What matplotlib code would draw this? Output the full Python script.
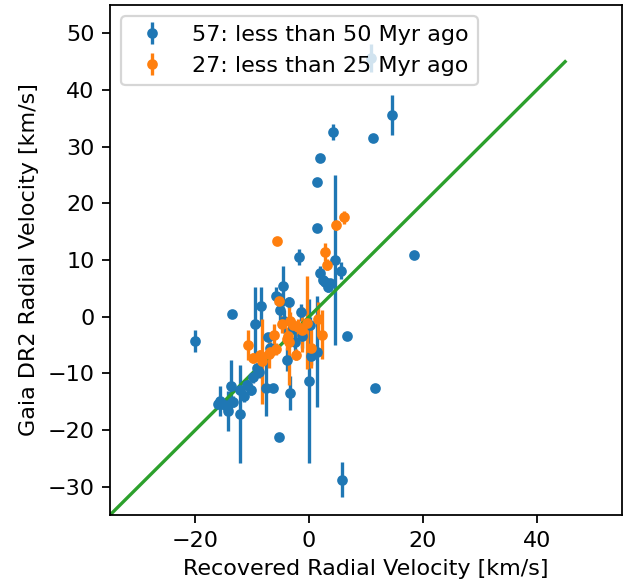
import matplotlib
matplotlib.use("Agg")
import matplotlib.pyplot as plt
import numpy as np

# blue sample: stars younger than 50 Myr (recovered RV, Gaia RV, Gaia RV error)
old_rv = [10.8, 14.5, 11.2, 4.2, 1.9, 1.4, 1.4, -1.7, 4.6, 18.4,
          5.6, 1.9, 2.4, 3.7, 3.4, -4.6, -5.9, -8.4, -13.5, -1.5,
          -20.0, 6.6, -9.5, -7.3, -5.1, -3.9, 1.3, 0.4, -0.1, -3.4,
          -7.6, -6.4, -5.3, 11.5, 5.8, -16.1, -15.7, -13.8, -14.2, -12.2,
          -12.2, -11.5, -13.3, -10.3, -9.8, -9.2, -2.8, -1.2, -6.8, 0.2,
          -3.5, -11.0, -14.8, 2.8, -2.5, -8.8, -4.4]
old_gaia = [45.6, 35.6, 31.6, 32.6, 28.0, 23.7, 15.6, 10.5, 10.0, 10.8,
            8.1, 7.7, 6.5, 5.9, 5.2, 5.4, 3.7, 1.8, 0.5, 0.8,
            -4.3, -3.4, -1.3, -3.6, 1.2, -7.6, -6.2, -7.0, -11.4, -13.4,
            -12.5, -12.6, -21.3, -12.6, -28.8, -15.4, -14.9, -12.2, -16.6, -17.2,
            -13.0, -14.0, -15.0, -12.9, -10.7, -9.1, -2.0, -3.5, -5.5, -1.5,
            2.5, -12.0, -15.6, 6.1, -4.5, -9.8, -0.8]
old_err = [2.5, 3.5, 0.4, 1.4, 0.4, 0.4, 0.4, 1.4, 15.0, 0.4,
           1.5, 1.2, 0.5, 0.5, 0.8, 3.6, 1.5, 3.5, 0.6, 1.5,
           1.9, 0.4, 6.5, 0.5, 3.0, 2.0, 9.8, 1.5, 14.5, 3.0,
           5.0, 0.5, 0.5, 0.4, 3.1, 0.5, 2.7, 4.5, 3.5, 8.6,
           1.0, 1.0, 1.0, 1.0, 1.0, 1.0, 1.0, 2.0, 1.0, 1.5,
           1.0, 1.0, 1.0, 0.5, 2.0, 1.0, 2.0]

# orange sample: stars younger than 25 Myr
young_rv = [-5.6, 4.7, 6.2, 2.8, 3.1, -0.4, -10.7, -9.9, -8.2, -6.8,
            -6.2, -5.8, -5.3, -4.7, -3.8, -3.4, -2.9, -2.3, -1.9, 0.4,
            2.2, 1.5, -3.6, -3.7, -8.6, -1.3, -7.0]
young_gaia = [13.3, 16.1, 17.5, 11.4, 9.2, -1.1, -5.0, -7.3, -7.9, -6.3,
              -3.3, -5.7, 2.8, -1.3, -3.9, -0.7, -1.5, -6.7, -1.9, -5.6,
              -3.2, -0.5, -4.5, -3.5, -6.8, -2.3, -6.6]
young_err = [0.3, 0.8, 1.2, 1.6, 1.0, 8.2, 2.6, 0.8, 7.5, 1.0,
             2.0, 1.0, 1.0, 1.5, 2.0, 1.5, 1.0, 1.0, 1.5, 3.4,
             4.3, 3.0, 7.5, 1.0, 1.0, 4.0, 2.5]

DPI = 160

fig = plt.figure(figsize=(632 / DPI, 586 / DPI), dpi=DPI)
ax = fig.add_axes([110 / 632, 71 / 586, 512 / 632, 510 / 586])

ax.errorbar(old_rv, old_gaia, yerr=old_err, fmt="o", markersize=3.8,
            label=f"{len(old_rv)}: less than 50 Myr ago")
ax.errorbar(young_rv, young_gaia, yerr=young_err, fmt="o", markersize=3.8,
            label=f"{len(young_rv)}: less than 25 Myr ago")

one_to_one = np.array([-35, 45])
ax.plot(one_to_one, one_to_one)

ax.set_xlim(-35, 55)
ax.set_ylim(-35, 55)
ax.set_xticks([-20, 0, 20, 40])
ax.set_yticks(np.arange(-30, 51, 10))
ax.set_xlabel("Recovered Radial Velocity [km/s]")
ax.set_ylabel("Gaia DR2 Radial Velocity [km/s]")
ax.legend(loc="upper left")

fig.savefig("out.png", dpi=DPI)
